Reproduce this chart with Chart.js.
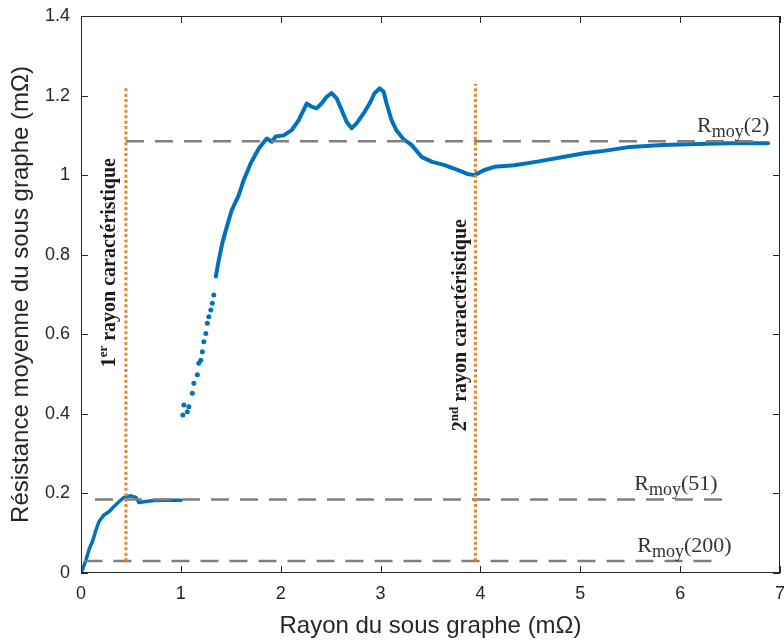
<!DOCTYPE html>
<html><head><meta charset="utf-8">
<script src="https://cdn.jsdelivr.net/npm/chart.js@4/dist/chart.umd.min.js"></script>
<style>html,body{margin:0;padding:0;background:#fff}#wrap{width:784px;height:642px}</style>
</head><body><div id="wrap"><canvas id="c" width="784" height="642"></canvas></div>
<script>
// ---- data ----
const xTicks = [0, 1, 2, 3, 4, 5, 6, 7];
const yTicks = [0, 0.2, 0.4, 0.6, 0.8, 1, 1.2, 1.4];

// first part of the curve (0 .. 1)
const seg1X = [0, 0.02, 0.05, 0.085, 0.12, 0.15, 0.18, 0.23, 0.28, 0.33, 0.38, 0.43, 0.50, 0.55, 0.58, 0.63, 0.73, 0.86, 1.0];
const seg1Y = [0, 0.012, 0.033, 0.062, 0.083, 0.108, 0.129, 0.146, 0.154, 0.167, 0.179, 0.19, 0.194, 0.19, 0.177, 0.179, 0.182, 0.183, 0.183];

// sparse points (1 .. 1.35)
const sparseX = [1.02, 1.03, 1.065, 1.08, 1.115, 1.13, 1.165, 1.18, 1.20, 1.215, 1.23, 1.25, 1.265, 1.28, 1.30, 1.315, 1.33];
const sparseY = [0.397, 0.422, 0.405, 0.418, 0.452, 0.477, 0.498, 0.527, 0.535, 0.556, 0.581, 0.602, 0.628, 0.644, 0.661, 0.678, 0.699];

// main curve (1.35 .. 6.9)
const mainX = [1.35, 1.38, 1.415, 1.46, 1.51, 1.58, 1.63, 1.70, 1.78, 1.86, 1.91, 1.95, 2.03, 2.11, 2.18, 2.23, 2.26, 2.31, 2.36, 2.41, 2.46, 2.51, 2.56, 2.61, 2.66, 2.71, 2.76, 2.83, 2.89, 2.94, 2.99, 3.03, 3.06, 3.11, 3.16, 3.23, 3.31, 3.41, 3.51, 3.64, 3.77, 3.87, 3.94, 4.04, 4.14, 4.34, 4.57, 4.84, 5.04, 5.24, 5.50, 5.83, 6.17, 6.50, 6.88];
const mainY = [0.745, 0.787, 0.829, 0.87, 0.912, 0.95, 0.988, 1.03, 1.067, 1.092, 1.084, 1.097, 1.10, 1.113, 1.138, 1.164, 1.18, 1.172, 1.168, 1.18, 1.197, 1.206, 1.193, 1.164, 1.134, 1.118, 1.13, 1.155, 1.18, 1.206, 1.218, 1.21, 1.18, 1.138, 1.112, 1.09, 1.076, 1.046, 1.034, 1.025, 1.013, 1.003, 1.00, 1.013, 1.021, 1.025, 1.034, 1.046, 1.055, 1.061, 1.071, 1.076, 1.078, 1.080, 1.080];

// reference (mean) lines
const refLabels = ['2', '51', '200'];
const refValues = [1.085, 0.185, 0.03];
const refStart = [0.45, 0.14, 0.035];
const refEnd = [6.82, 6.5, 6.39];

// characteristic radii
const radiusX = [0.45, 3.95];
const radiusYMin = [0.03, 0.03];
const radiusYMax = [1.22, 1.23];
const radiusNum = ['1', '2'];
const radiusSup = ['er', 'nd'];
const radiusText = ' rayon caractéristique';

// ---- styles ----
const BLUE = '#0072BD';
const GRAY = '#7f7f7f';
const ORANGE = '#E5862B';
const AXIS = '#262626';

const toPts = (xs, ys) => xs.map((x, i) => ({x, y: ys[i]}));

const datasets = [];
radiusX.forEach((rx, i) => datasets.push({
  data: [{x: rx, y: radiusYMin[i]}, {x: rx, y: radiusYMax[i]}],
  showLine: true, borderColor: ORANGE, borderWidth: 3, borderDash: [3, 2.4],
  pointRadius: 0, order: 0
}));
refValues.forEach((v, i) => datasets.push({
  data: [{x: refStart[i], y: v}, {x: refEnd[i], y: v}],
  showLine: true, borderColor: GRAY, borderWidth: 2.5, borderDash: [18, 11],
  pointRadius: 0, order: 1
}));
datasets.push({data: toPts(seg1X, seg1Y), showLine: true, borderColor: BLUE, borderWidth: 3.5,
  borderJoinStyle: 'round', borderCapStyle: 'round', pointRadius: 0, order: 2});
datasets.push({data: toPts(sparseX, sparseY), showLine: false, backgroundColor: BLUE,
  pointRadius: 2.5, pointBorderWidth: 0, order: 2});
datasets.push({data: toPts(mainX, mainY), showLine: true, borderColor: BLUE, borderWidth: 4,
  borderJoinStyle: 'round', borderCapStyle: 'round', pointRadius: 0, order: 2});

// rich text helper: parts = [{t, size, dy}]
function drawRich(ctx, parts, family, weight, x, y, align) {
  let w = 0;
  parts.forEach(p => { ctx.font = `${weight} ${p.size}px ${family}`; p.w = ctx.measureText(p.t).width; w += p.w; });
  let cx = align === 'center' ? x - w / 2 : x;
  parts.forEach(p => {
    ctx.font = `${weight} ${p.size}px ${family}`;
    ctx.fillText(p.t, cx, y + (p.dy || 0));
    cx += p.w;
  });
}

// annotation positions (data units)
const radiusLabelX = [0.29, 3.80];
const radiusLabelY = [0.78, 0.623];
const refLabelX = [6.17, 5.54, 5.57];
const refLabelY = [1.108, 0.209, 0.053];

const decor = {
  id: 'decor',
  afterDatasetsDraw(chart) {
    const {ctx, scales: {x, y}} = chart;
    ctx.save();
    ctx.fillStyle = '#1a1a1a';
    ctx.textBaseline = 'middle';
    radiusX.forEach((_, i) => {
      ctx.save();
      ctx.translate(x.getPixelForValue(radiusLabelX[i]), y.getPixelForValue(radiusLabelY[i]));
      ctx.rotate(-Math.PI / 2);
      drawRich(ctx, [
        {t: radiusNum[i], size: 20},
        {t: radiusSup[i], size: 13, dy: -6},
        {t: radiusText, size: 20}
      ], '"Liberation Serif", serif', 'bold', 0, 0, 'center');
      ctx.restore();
    });
    ctx.fillStyle = '#333333';
    ctx.textBaseline = 'alphabetic';
    refLabels.forEach((lab, i) => {
      drawRich(ctx, [
        {t: 'R', size: 22},
        {t: 'moy', size: 18, dy: 5},
        {t: '(' + lab + ')', size: 22}
      ], '"Liberation Serif", serif', 'normal', x.getPixelForValue(refLabelX[i]), y.getPixelForValue(refLabelY[i]), 'left');
    });
    ctx.restore();
  },
  afterDraw(chart) {
    const {ctx, chartArea: {left, top, right, bottom}, scales: {x, y}} = chart;
    ctx.save();
    ctx.strokeStyle = AXIS;
    ctx.lineWidth = 1;
    ctx.strokeRect(left + 0.5, top + 0.5, right - left - 1, bottom - top - 1);
    ctx.beginPath();
    xTicks.forEach(v => {
      const px = Math.round(x.getPixelForValue(v)) + 0.5;
      ctx.moveTo(px, bottom); ctx.lineTo(px, bottom - 7);
      ctx.moveTo(px, top); ctx.lineTo(px, top + 7);
    });
    yTicks.forEach(v => {
      const py = Math.round(y.getPixelForValue(v)) + 0.5;
      ctx.moveTo(left, py); ctx.lineTo(left + 7, py);
      ctx.moveTo(right, py); ctx.lineTo(right - 7, py);
    });
    ctx.stroke();
    ctx.restore();
  }
};

new Chart(document.getElementById('c'), {
  type: 'scatter',
  data: {datasets},
  options: {
    responsive: false,
    animation: false,
    layout: {padding: {top: 16, right: 0, left: 0, bottom: 0}},
    plugins: {legend: {display: false}, tooltip: {enabled: false}},
    scales: {
      x: {
        type: 'linear', min: 0, max: 7,
        grid: {display: false, drawTicks: false},
        border: {display: false},
        ticks: {stepSize: 1, color: AXIS, padding: 10, maxRotation: 0,
          font: {family: '"Liberation Sans", Arial, sans-serif', size: 18}},
        title: {display: true, text: 'Rayon du sous graphe (mΩ)', color: AXIS,
          padding: {top: 0, bottom: 1}, font: {family: '"Liberation Sans", Arial, sans-serif', size: 24}},
        afterFit(s) { s.height = 69; s.paddingLeft = 0; s.paddingRight = 0; }
      },
      y: {
        type: 'linear', min: 0, max: 1.4,
        grid: {display: false, drawTicks: false},
        border: {display: false},
        ticks: {stepSize: 0.2, color: AXIS, padding: 11,
          callback: v => String(Math.round(v * 10) / 10),
          font: {family: '"Liberation Sans", Arial, sans-serif', size: 18}},
        title: {display: true, text: 'Résistance moyenne du sous graphe (mΩ)', color: AXIS,
          padding: {top: 7, bottom: 0}, font: {family: '"Liberation Sans", Arial, sans-serif', size: 24}},
        afterFit(s) { s.width = 81; s.paddingTop = 0; s.paddingBottom = 0; }
      }
    }
  },
  plugins: [decor]
});
</script>
</body></html>
